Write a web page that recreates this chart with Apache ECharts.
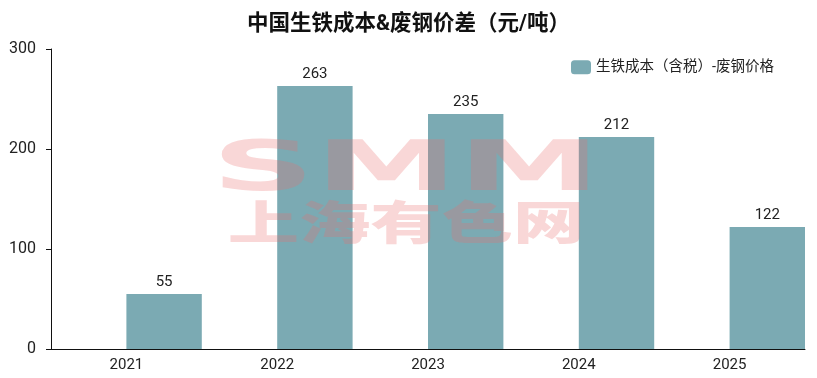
<!DOCTYPE html>
<html>
<head>
<meta charset="utf-8">
<script src="https://cdn.jsdelivr.net/npm/echarts@6/dist/echarts.min.js"></script>
<style>
html, body { margin: 0; padding: 0; background: #fff; }
#chart { width: 817px; height: 378px; }
</style>
</head>
<body>
<div id="chart"></div>
<script>
const years = ["2021", "2022", "2023", "2024", "2025"];
const spread = [55, 263, 235, 212, 122];
const blank = [null, null, null, null, null];
const seriesName = "生铁成本（含税）-废钢价格";
const font = "Roboto, 'Noto Sans CJK SC'";

let myChart = echarts.init(document.getElementById("chart"));
let option = {
  backgroundColor: "#fff",
  textStyle: { fontFamily: font },
  title: {
    text: "中国生铁成本&废钢价差（元/吨）",
    left: "center",
    top: 9,
    textStyle: { fontSize: 21.5, fontWeight: "bold", color: "#111", fontFamily: font }
  },
  legend: {
    data: [seriesName],
    right: 38,
    top: 55,
    itemWidth: 20,
    itemHeight: 14,
    itemGap: 10,
    textStyle: { fontSize: 14.5, color: "#222", fontFamily: font }
  },
  grid: { left: 51, right: 12, top: 49, bottom: 29 },
  xAxis: {
    type: "category",
    data: years,
    axisLine: { lineStyle: { color: "#111", width: 1 } },
    axisTick: { show: false },
    axisLabel: { color: "#222", fontSize: 15, margin: 9 }
  },
  yAxis: {
    type: "value",
    min: 0,
    max: 300,
    interval: 100,
    splitLine: { show: false },
    axisLine: { show: true, lineStyle: { color: "#111", width: 1 } },
    axisTick: { show: true, length: 5, lineStyle: { color: "#111" } },
    axisLabel: { color: "#222", fontSize: 16, margin: 15 }
  },
  series: [
    {
      name: "blank",
      type: "bar",
      data: blank,
      barGap: "0%",
      barCategoryGap: "0%"
    },
    {
      name: seriesName,
      type: "bar",
      data: spread,
      barGap: "0%",
      barCategoryGap: "0%",
      itemStyle: { color: "#7BAAB3" },
      label: { show: true, position: "top", color: "#222", fontSize: 15, distance: 4 }
    }
  ],
  graphic: [
    {
      type: "text",
      x: 406,
      y: 172,
      scaleX: 2.05,
      z: 100,
      style: {
        text: "SMM",
        font: "900 70px 'DejaVu Sans'",
        fill: "rgba(232,110,110,0.28)",
        textAlign: "center",
        textVerticalAlign: "middle"
      }
    },
    {
      type: "text",
      x: 406,
      y: 222,
      scaleX: 1.55,
      z: 100,
      style: {
        text: "上海有色网",
        font: "900 46px 'Noto Sans CJK SC'",
        fill: "rgba(232,110,110,0.28)",
        textAlign: "center",
        textVerticalAlign: "middle"
      }
    }
  ]
};
myChart.setOption(option);
</script>
</body>
</html>
